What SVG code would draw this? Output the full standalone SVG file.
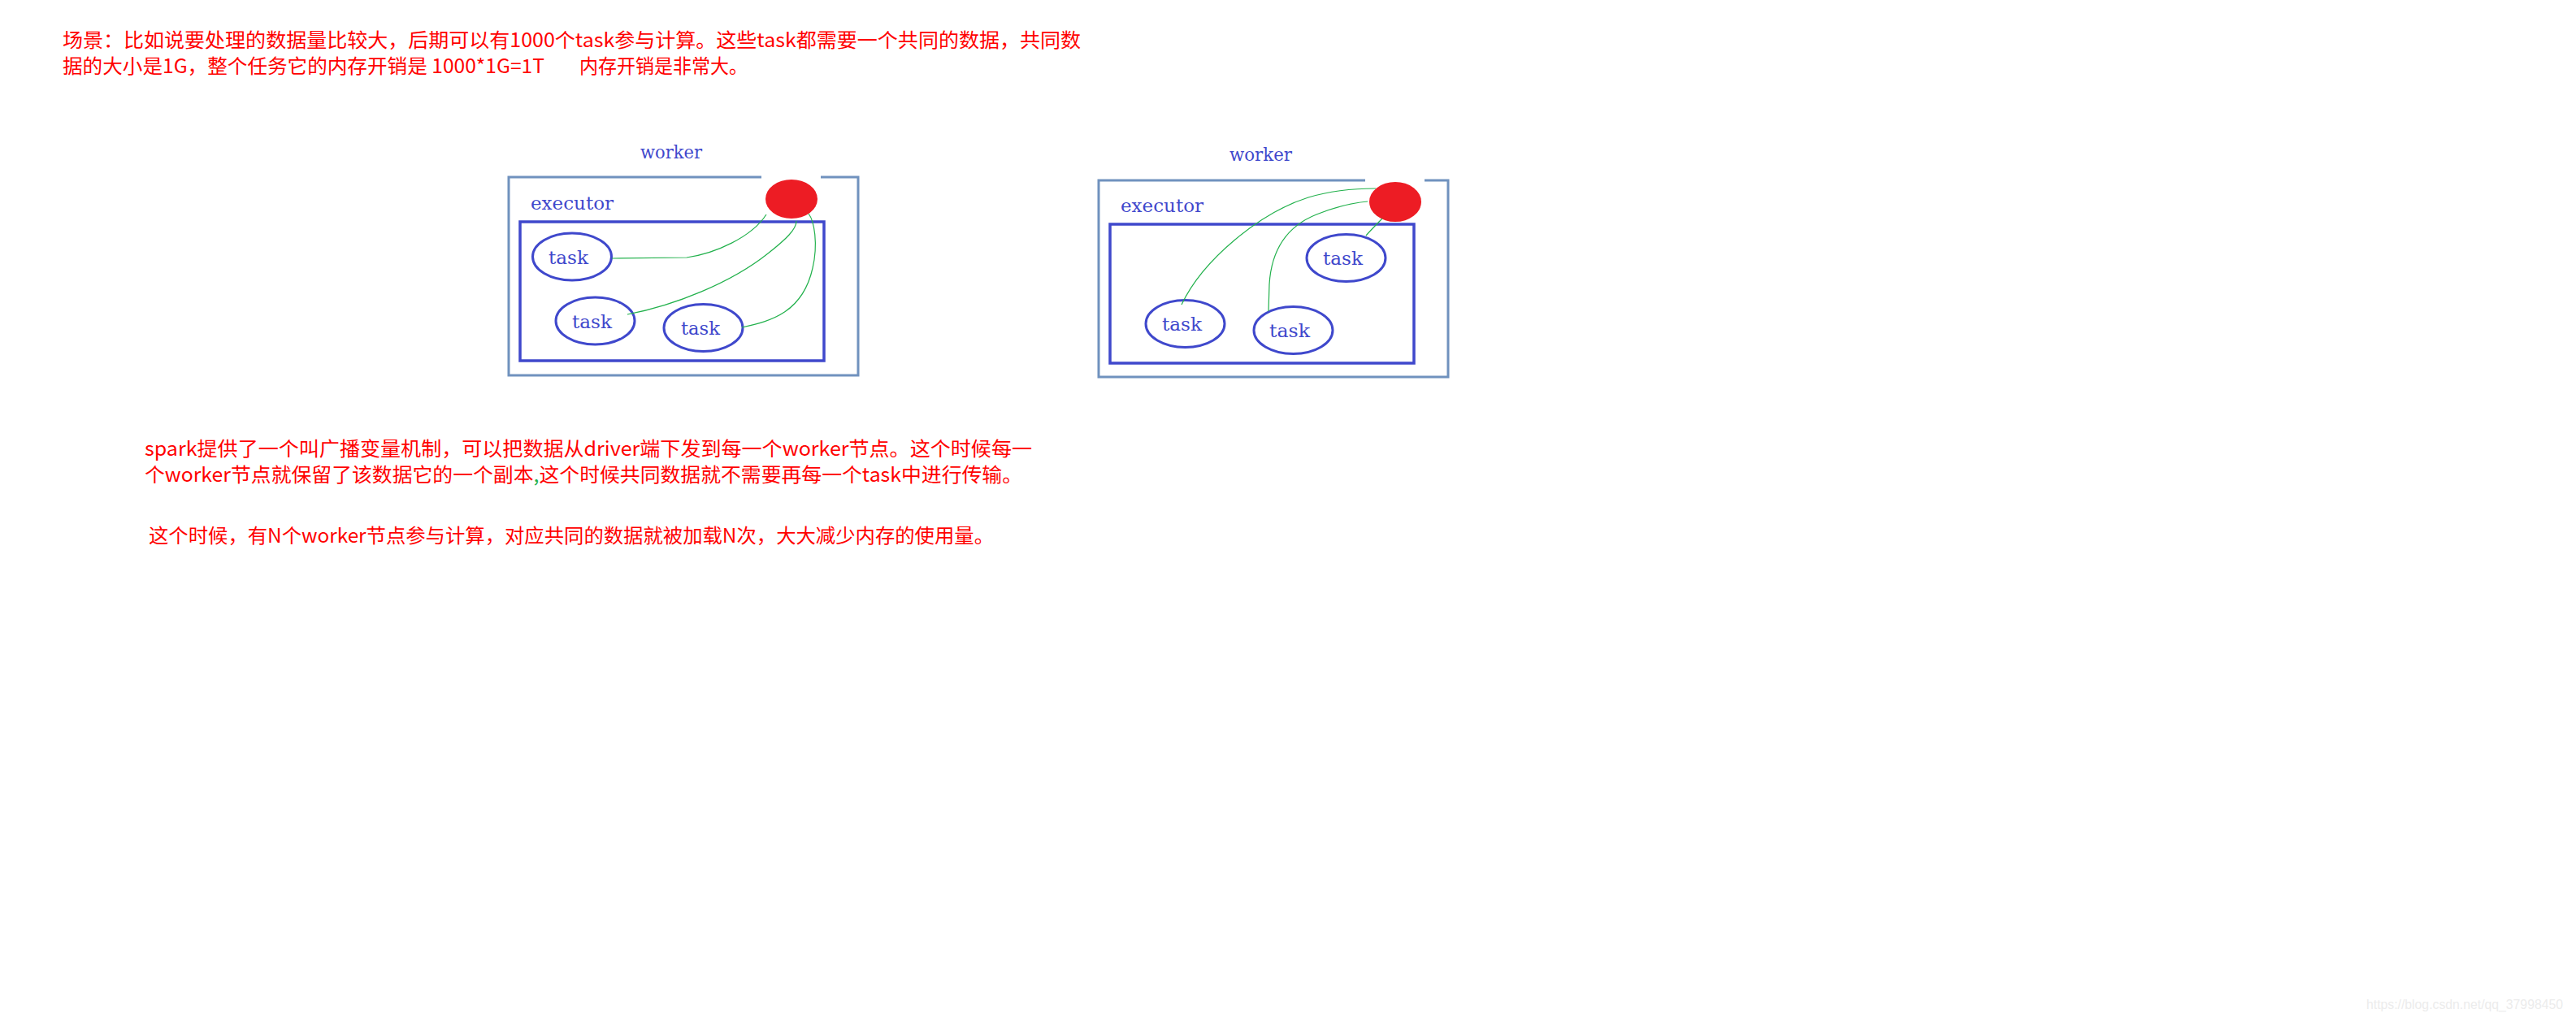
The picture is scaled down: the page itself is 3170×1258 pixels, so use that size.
<svg xmlns="http://www.w3.org/2000/svg" width="3170" height="1258" viewBox="0 0 3170 1258">
<style>
.red{font-family:"Noto Sans CJK SC","Noto Sans",sans-serif;font-size:24px;fill:#ff0000}
.blue{font-family:"DejaVu Serif","Liberation Serif",serif;font-size:23px;fill:#3f48cc}
.worker{fill:none;stroke:#7092be;stroke-width:3}
.exec{fill:none;stroke:#3f48cc;stroke-width:3.5}
.task{fill:#fff;stroke:#3f48cc;stroke-width:3}
.data{fill:#ed1c24}
.gap{stroke:#fff;stroke-width:5}
.link{fill:none;stroke:#22b14c;stroke-width:1.2}
.wm{font-family:"Liberation Sans",Arial,sans-serif;font-size:17px;fill:#ececec}
</style>
<rect width="3170" height="1258" fill="#fff"/>

<g id="text-top">
<text class="red" x="77" y="58" textLength="1253" lengthAdjust="spacingAndGlyphs">场景：比如说要处理的数据量比较大，后期可以有1000个task参与计算。这些task都需要一个共同的数据，共同数</text>
<text class="red" x="77" y="90" textLength="593" lengthAdjust="spacingAndGlyphs">据的大小是1G，整个任务它的内存开销是 1000*1G=1T</text>
<text class="red" x="713" y="90" textLength="207" lengthAdjust="spacingAndGlyphs">内存开销是非常大。</text>
</g>

<g id="worker1">
<rect class="worker" x="626" y="218" width="430" height="244"/>
<line class="gap" x1="937" y1="218" x2="1010" y2="218"/>
<text class="blue" x="788" y="195" textLength="76" lengthAdjust="spacingAndGlyphs">worker</text>
</g>
<g id="executor1">
<rect class="exec" x="640" y="273" width="374" height="171"/>
<text class="blue" x="653" y="258" textLength="102" lengthAdjust="spacingAndGlyphs">executor</text>
</g>
<g id="data1"><ellipse class="data" cx="974" cy="245" rx="32" ry="24"/></g>
<g id="task1a"><ellipse class="task" cx="704" cy="316" rx="48.5" ry="29"/><text class="blue" x="675" y="325" textLength="49" lengthAdjust="spacingAndGlyphs">task</text></g>
<g id="task1b"><ellipse class="task" cx="732.5" cy="395" rx="48.5" ry="29"/><text class="blue" x="704" y="404" textLength="49" lengthAdjust="spacingAndGlyphs">task</text></g>
<g id="task1c"><ellipse class="task" cx="865.5" cy="403.5" rx="48.5" ry="29"/><text class="blue" x="838" y="412" textLength="48" lengthAdjust="spacingAndGlyphs">task</text></g>

<g id="worker2">
<rect class="worker" x="1352" y="222" width="430" height="242"/>
<line class="gap" x1="1680" y1="222" x2="1753" y2="222"/>
<text class="blue" x="1513" y="198" textLength="77" lengthAdjust="spacingAndGlyphs">worker</text>
</g>
<g id="executor2">
<rect class="exec" x="1366" y="276" width="374" height="171"/>
<text class="blue" x="1379" y="261" textLength="102" lengthAdjust="spacingAndGlyphs">executor</text>
</g>
<g id="data2"><ellipse class="data" cx="1717" cy="248.5" rx="32" ry="24.5"/></g>
<g id="task2a"><ellipse class="task" cx="1656.5" cy="317.5" rx="48.5" ry="29"/><text class="blue" x="1628" y="326" textLength="49" lengthAdjust="spacingAndGlyphs">task</text></g>
<g id="task2b"><ellipse class="task" cx="1458.5" cy="398.5" rx="48.5" ry="29"/><text class="blue" x="1430" y="407" textLength="49" lengthAdjust="spacingAndGlyphs">task</text></g>
<g id="task2c"><ellipse class="task" cx="1591.5" cy="406.5" rx="48.5" ry="29"/><text class="blue" x="1562" y="415" textLength="50" lengthAdjust="spacingAndGlyphs">task</text></g>

<g id="connectors">
<path class="link" d="M753,318 L845,317 C880,312 925,292 943,264"/>
<path class="link" d="M772,387 C830,376 900,348 945,312 C968,294 980,282 980,272"/>
<path class="link" d="M913,403 C950,395 988,384 1000,330 C1007,300 1002,272 995,263"/>
<path class="link" d="M1454,375 C1480,320 1550,262 1610,243 C1640,234 1670,232 1693,232"/>
<path class="link" d="M1561,383 L1562,350 C1565,300 1590,276 1620,264 C1640,256 1660,250 1683,248"/>
<path class="link" d="M1681,290 C1688,282 1695,275 1701,269"/>
</g>

<g id="text-bottom">
<text class="red" x="178" y="561" textLength="1092" lengthAdjust="spacingAndGlyphs">spark提供了一个叫广播变量机制，可以把数据从driver端下发到每一个worker节点。这个时候每一</text>
<text class="red" x="178" y="593" textLength="1080" lengthAdjust="spacingAndGlyphs">个worker节点就保留了该数据它的一个副本<tspan fill="#22b14c">,</tspan>这个时候共同数据就不需要再每一个task中进行传输。</text>
<text class="red" x="183" y="668" textLength="1040" lengthAdjust="spacingAndGlyphs">这个时候，有N个worker节点参与计算，对应共同的数据就被加载N次，大大减少内存的使用量。</text>
</g>

<text class="wm" x="2912" y="1242" textLength="242" lengthAdjust="spacingAndGlyphs">https://blog.csdn.net/qq_37998450</text>
</svg>
